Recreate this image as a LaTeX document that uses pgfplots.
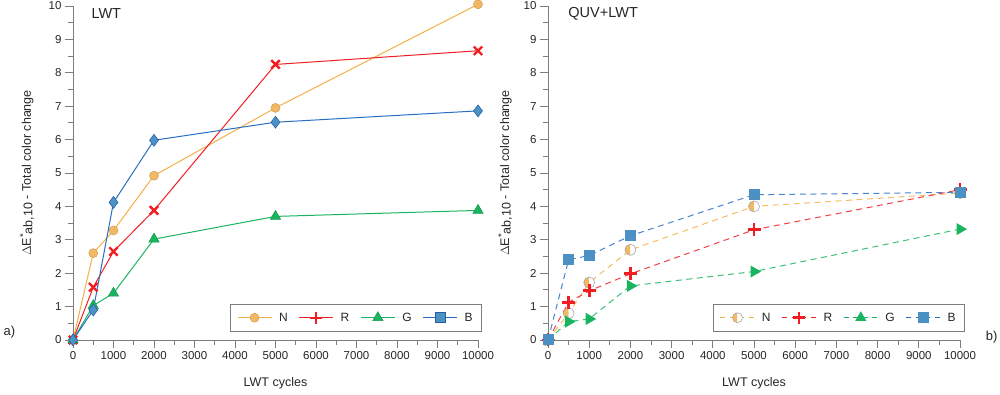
\documentclass[border=0pt]{standalone}
\usepackage{pgfplots}
\pgfplotsset{compat=1.18}
\usepackage{pgfplotstable}
\usepackage{fontspec}
\setmainfont{Liberation Sans}
\usetikzlibrary{plotmarks}

\definecolor{cN}{RGB}{243,176,70}
\definecolor{cNf}{RGB}{242,184,100}
\definecolor{cR}{RGB}{240,30,35}
\definecolor{cG}{RGB}{25,180,95}
\definecolor{cB}{RGB}{40,110,195}
\definecolor{cBf}{RGB}{75,145,195}
\definecolor{axgray}{RGB}{125,125,125}

\pgfplotstableread{
x N R G B
0 0 0 0 0
500 2.60 1.58 1.03 0.90
1000 3.28 2.65 1.40 4.12
2000 4.92 3.88 3.02 5.98
5000 6.95 8.25 3.70 6.52
10000 10.05 8.66 3.88 6.86
}\lwt

\pgfplotstableread{
x N R G B
0 0 0 0 0
500 0.80 1.13 0.55 2.40
1000 1.72 1.47 0.63 2.53
2000 2.70 1.98 1.62 3.12
5000 4.00 3.30 2.05 4.35
10000 4.40 4.50 3.32 4.42
}\quv

\pgfplotsset{
  mystyle/.style={
    scale only axis, anchor=south west,
    xmin=0, xmax=10000, ymin=0, ymax=10,
    axis lines*=left,
    axis line style={axgray, line width=0.8pt},
    xtick={0,1000,...,10000}, ytick={0,1,...,10},
    minor x tick num=1, minor y tick num=1,
    scaled x ticks=false,
    tick align=outside, major tick length=8pt, minor tick length=5pt,
    tick style={axgray, line width=0.8pt},
    /pgf/number format/set thousands separator={},
    /pgf/number format/assume math mode=true,
    ticklabel style={font=\fontsize{11.5}{13}\selectfont, text=black!85},
    label style={font=\fontsize{12.5}{15}\selectfont, text=black!85},
    xlabel={LWT cycles},
    xlabel style={at={(axis description cs:0.5,0)}, anchor=center, yshift=-43pt},
    clip=false,
    legend columns=4,
    legend cell align=left,
    legend style={draw=axgray, line width=0.6pt, fill=white,
      font=\fontsize{12}{14}\selectfont, text=black!85,
      inner xsep=7pt, inner ysep=7pt,
      /tikz/every odd column/.append style={column sep=5pt},
      /tikz/every even column/.append style={column sep=9pt}},
    legend image code/.code={\draw[mark repeat=2,mark phase=2,#1] plot coordinates {(0pt,0pt)(17pt,0pt)(34pt,0pt)};},
  }
}

\begin{document}
\begin{tikzpicture}
\path[use as bounding box] (0pt,0pt) rectangle (1000pt,395pt);

% ---------------- left panel -------------
\begin{axis}[mystyle, at={(73pt,55pt)}, width=405pt, height=334pt,
  ylabel={$\Delta$E\raisebox{4.5pt}{\fontsize{9.5}{9.5}\selectfont *}\raisebox{-1.5pt}{ab,10} - Total color change},
  ylabel style={at={(axis description cs:-0.1136,0.5)}, anchor=center},
  legend style={at={(1.0099,0.024)}, anchor=south east},
]
\addplot[cN, line width=1pt, mark=*, mark size=4.5pt, mark options={fill=cNf, draw=cNf!85!black, line width=0.5pt}, forget plot] table[x=x,y=N]{\lwt};
\addplot[cR, line width=1pt, mark=x, mark size=6pt, mark options={line width=2.4pt}, forget plot] table[x=x,y=R]{\lwt};
\addplot[cG, line width=1pt, mark=triangle*, mark size=6pt, mark options={fill=cG, draw=cG!85!black, line width=0.5pt}, forget plot] table[x=x,y=G]{\lwt};
\addplot[cB, line width=1pt, mark=diamond*, mark size=6pt, mark options={fill=cBf, draw=cB!85!black, line width=0.5pt}, forget plot] table[x=x,y=B]{\lwt};

\addlegendimage{cN, line width=1pt, mark=*, mark size=4.5pt, mark options={fill=cNf, draw=cNf!85!black, line width=0.5pt}}
\addlegendentry{N}
\addlegendimage{cR, line width=1pt, mark=+, mark size=6pt, mark options={line width=2.2pt}}
\addlegendentry{R}
\addlegendimage{cG, line width=1pt, mark=triangle*, mark size=6pt, mark options={fill=cG, draw=cG!85!black, line width=0.5pt}}
\addlegendentry{G}
\addlegendimage{cB, line width=1pt, mark=square*, mark size=5pt, mark options={fill=cBf, draw=cB!85!black, line width=0.5pt}}
\addlegendentry{B}

\node[anchor=west, font=\fontsize{14.5}{17}\selectfont, text=black!85] at (axis description cs:0.037,0.976) {LWT};
\end{axis}

% ---------------- right panel -------------
\begin{axis}[mystyle, at={(548pt,55pt)}, width=412pt, height=334pt,
  ylabel={$\Delta$E\raisebox{4.5pt}{\fontsize{9.5}{9.5}\selectfont *}\raisebox{-1.5pt}{ab,10} - Total color change},
  ylabel style={at={(axis description cs:-0.104,0.5)}, anchor=center},
  legend style={at={(1.012,0.024)}, anchor=south east},
]
\addplot[cN!85, line width=1pt, dash pattern=on 6pt off 4.5pt, mark=halfcircle*, mark size=5.5pt, mark options={solid, rotate=90, fill=cNf, draw=gray!70, line width=0.6pt}, forget plot] table[x=x,y=N]{\quv};
\addplot[cR!85, line width=1pt, dash pattern=on 6pt off 4.5pt, mark=+, mark size=6.5pt, mark options={solid, draw=cR, line width=2.8pt}, forget plot] table[x=x,y=R]{\quv};
\addplot[cG!85, line width=1pt, dash pattern=on 6pt off 4.5pt, mark=triangle*, mark size=6pt, mark options={solid, rotate=-90, fill=cG, draw=cG}, forget plot] table[x=x,y=G]{\quv};
\addplot[cB!85, line width=1pt, dash pattern=on 6pt off 4.5pt, mark=square*, mark size=5pt, mark options={solid, fill=cBf, draw=cBf}, forget plot] table[x=x,y=B]{\quv};

\addlegendimage{cN, line width=1pt, dash pattern=on 5pt off 4.5pt, mark=halfcircle*, mark size=5pt, mark options={solid, rotate=90, fill=cNf, draw=gray!70, line width=0.6pt}}
\addlegendentry{N}
\addlegendimage{cR, line width=1pt, dash pattern=on 5pt off 4.5pt, mark=+, mark size=6pt, mark options={solid, line width=2.6pt}}
\addlegendentry{R}
\addlegendimage{cG, line width=1pt, dash pattern=on 5pt off 4.5pt, mark=triangle*, mark size=5.5pt, mark options={solid, fill=cG, draw=cG}}
\addlegendentry{G}
\addlegendimage{cB, line width=1pt, dash pattern=on 5pt off 4.5pt, mark=square*, mark size=5pt, mark options={solid, fill=cBf, draw=cBf}}
\addlegendentry{B}

\node[anchor=west, font=\fontsize{14.5}{17}\selectfont, text=black!85] at (axis description cs:0.041,0.976) {QUV+LWT};
\end{axis}

\node[anchor=west, font=\fontsize{13}{15}\selectfont, text=black!85] at (0pt,63pt) {a)};
\node[anchor=east, font=\fontsize{13}{15}\selectfont, text=black!85] at (1001pt,58pt) {b)};
\end{tikzpicture}
\end{document}
